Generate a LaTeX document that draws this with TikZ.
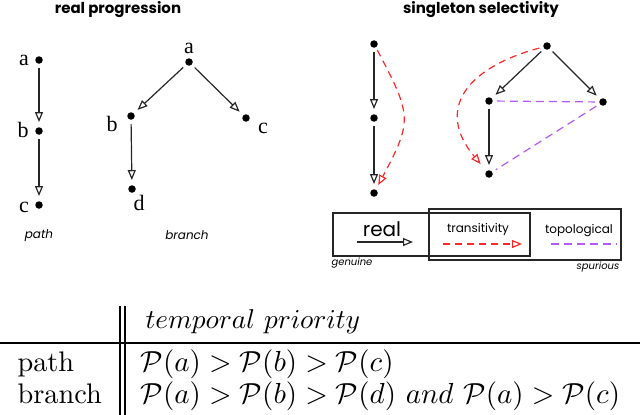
\documentclass[tikz,border=0pt]{standalone}
\usepackage{fontspec}
\usetikzlibrary{arrows.meta}
\newfontfamily\gfont{Poppins}
\newfontfamily\tfont{Liberation Serif}
\definecolor{tred}{RGB}{255,40,40}
\definecolor{tpur}{RGB}{180,90,245}
\begin{document}
\begin{tikzpicture}[x=1pt,y=-1pt,
 dot/.style={circle,fill=black,inner sep=0pt,minimum size=7.5pt},
 lett/.style={font=\tfont\fontsize{22}{22}\selectfont,inner sep=0pt,anchor=base},
 capt/.style={font=\gfont\itshape\fontsize{12}{12}\selectfont,inner sep=0pt},
 small/.style={font=\gfont\itshape\fontsize{10}{10}\selectfont,inner sep=0pt},
 leg/.style={font=\gfont\fontsize{12}{12}\selectfont,inner sep=0pt},
 ttl/.style={font=\gfont\bfseries\fontsize{15}{15}\selectfont,inner sep=0pt},
 tip/.style={-{Triangle[open,length=10pt,width=8pt,line width=1.2pt]}},
 arr/.style={draw=black!85,line width=1.2pt,tip,shorten >=5pt,shorten <=4pt},
 trn/.style={draw=tred,line width=1.2pt,dash pattern=on 7pt off 5pt,tip},
 topo/.style={draw=tpur,line width=1.2pt,dash pattern=on 8pt off 5pt},
 tab/.style={scale=2.9,inner sep=0pt,anchor=base west},
 box/.style={draw=black!85,line width=1.1pt}
]
\useasboundingbox (0,0) rectangle (640,415);
% titles
\node[ttl] (t1) at (118,10) {real progression};
\node[ttl] (t2) at (481,10) {singleton selectivity};
% path
\node[dot] (pa) at (39,60) {};
\node[dot] (pb) at (39,131) {};
\node[dot] (pc) at (39,205) {};
\node[lett] (la) at (24,65) {a};
\node[lett] (lb) at (23,137) {b};
\node[lett] (lc) at (24,212) {c};
\draw[arr] (pa) -- (pb);
\draw[arr] (pb) -- (pc);
\node[capt] (cpath) at (39,236) {path};
% branch
\node[dot] (ba) at (189,62) {};
\node[dot] (bb) at (131,116) {};
\node[dot] (bc) at (246,118) {};
\node[dot] (bd) at (132,189) {};
\node[lett] (lba) at (189,53) {a};
\node[lett] (lbb) at (112,131) {b};
\node[lett] (lbc) at (263,133) {c};
\node[lett] (lbd) at (139,210) {d};
\draw[arr] (ba) -- (bb);
\draw[arr] (ba) -- (bc);
\draw[arr] (bb) -- (bd);
\node[capt] (cbranch) at (187,235) {branch};
% singleton chain
\node[dot] (s1) at (374,44) {};
\node[dot] (s2) at (374,118) {};
\node[dot] (s3) at (374,193) {};
\draw[arr] (s1) -- (s2);
\draw[arr] (s2) -- (s3);
\draw[trn,shorten <=3pt,shorten >=5pt] (s1) to[out=-62,in=62,looseness=1.4] (s3);
% singleton graph
\node[dot] (g1) at (547,46) {};
\node[dot] (g2) at (489,101) {};
\node[dot] (g3) at (603,102) {};
\node[dot] (g4) at (489,174) {};
\draw[arr] (g1) -- (g2);
\draw[arr] (g1) -- (g3);
\draw[arr] (g2) -- (g4);
\draw[topo,shorten <=4pt,shorten >=4pt] (g2) -- (g3);
\draw[topo,shorten <=4pt,shorten >=4pt] (g3) -- (g4);
\draw[trn,shorten <=4pt,shorten >=9pt] (g1) to[out=195,in=130,looseness=1.5] (g4);
% legend
\node[box,minimum width=197pt,minimum height=43pt,inner sep=0pt] (bx1) at (431.5,234.5) {};
\node[box,minimum width=192pt,minimum height=51pt,inner sep=0pt] (bx2) at (525,234.5) {};
\node[font=\gfont\fontsize{20}{20}\selectfont,inner sep=0pt] (lreal) at (382,229) {real};
\coordinate (r0) at (357,242);
\coordinate (r1) at (413,242);
\draw[draw=black!85,line width=1.2pt,tip] (r0) -- (r1);
\node[leg] (ltr) at (478,229) {transitivity};
\coordinate (q0) at (443,244);
\coordinate (q1) at (522,244);
\draw[trn] (q0) -- (q1);
\node[leg] (ltp) at (579,231) {topological};
\coordinate (u0) at (551,244);
\coordinate (u1) at (617,244);
\draw[topo] (u0) -- (u1);
\node[small] (lgen) at (352,263) {genuine};
\node[small] (lspu) at (598,267) {spurious};
% table
\coordinate (h0) at (0,343);
\coordinate (h1) at (640,343);
\draw[line width=1.2pt] (h0) -- (h1);
\coordinate (v0) at (120,306);
\coordinate (v1) at (120,415);
\coordinate (w0) at (125,306);
\coordinate (w1) at (125,415);
\draw[line width=1.1pt] (v0) -- (v1);
\draw[line width=1.1pt] (w0) -- (w1);
\node[tab,scale=0.94] (thd) at (145,328) {$temporal\ priority$};
\node[tab,scale=0.976] (rp) at (17,371) {path};
\node[tab,scale=0.976] (rb) at (17,403) {branch};
\node[tab] (mp) at (140,371) {$\mathcal{P}(a) > \mathcal{P}(b) > \mathcal{P}(c)$};
\node[tab] (mb) at (140,403) {$\mathcal{P}(a) > \mathcal{P}(b) > \mathcal{P}(d)\ and\ \mathcal{P}(a) > \mathcal{P}(c)$};
\end{tikzpicture}
\end{document}
